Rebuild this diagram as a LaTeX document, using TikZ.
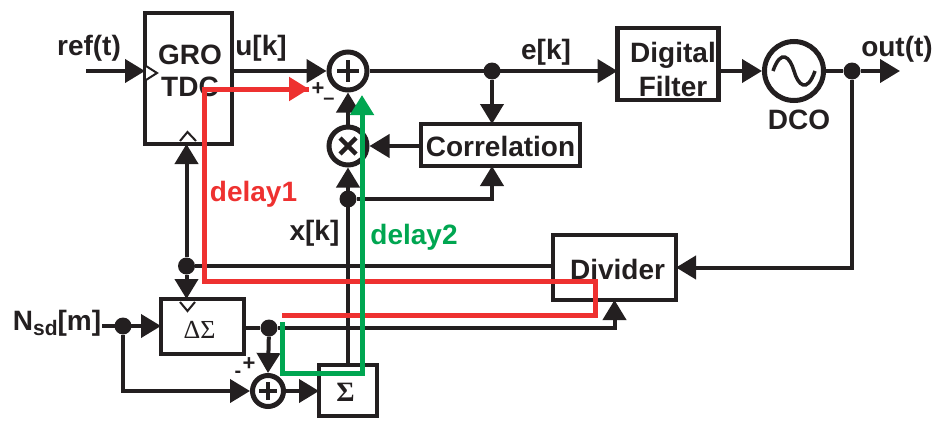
\documentclass[tikz,border=0pt]{standalone}
\usepackage{fontspec}
\setmainfont{Liberation Sans}
\newfontfamily\serifcap{Liberation Serif}
\usetikzlibrary{arrows.meta,calc}
\definecolor{ink}{HTML}{231F20}
\definecolor{redpath}{HTML}{EE3130}
\definecolor{greenpath}{HTML}{00A651}
\tikzset{
  x=1pt,y=-1pt,
  wire/.style={draw=ink,line width=4pt,line cap=butt},
  arrowed/.style={wire,-{Triangle[length=20pt,width=23pt]}},
  blockbox/.style={draw=ink,line width=4.5pt,fill=white,inner sep=0pt,outer sep=0pt},
  blocktext/.style={text=ink,font=\fontsize{28}{33}\selectfont\bfseries,align=center,inner sep=0pt},
  opcircle/.style={circle,draw=ink,line width=5pt,fill=white,inner sep=0pt,outer sep=2.5pt,minimum size=#1},
  junction/.style={circle,fill=ink,inner sep=0pt,minimum size=17pt},
  lbl/.style={text=ink,font=\fontsize{28}{32}\selectfont\bfseries,inner sep=0pt},
  signlbl/.style={text=ink,font=\fontsize{22}{24}\selectfont\bfseries,inner sep=0pt},
  redlbl/.style={text=redpath,font=\fontsize{28}{32}\selectfont\bfseries,inner sep=0pt},
  greenlbl/.style={text=greenpath,font=\fontsize{28}{32}\selectfont\bfseries,inner sep=0pt},
  redline/.style={draw=redpath,line width=5pt,line join=miter},
  greenline/.style={draw=greenpath,line width=5pt,line join=miter},
  notch/.style={draw=ink,line width=2pt,fill=white},
}
\begin{document}
\begin{tikzpicture}
\useasboundingbox (0,0) rectangle (939,423);
% blocks
\node[blockbox,minimum width=87pt,minimum height=131pt] (gro) at (188.5,78.5) {};
\node[blockbox,minimum width=101pt,minimum height=72pt] (filter) at (668,64) {};
\node[blockbox,minimum width=159pt,minimum height=42pt] (corr) at (500.5,145) {};
\node[blockbox,minimum width=123pt,minimum height=65pt] (divider) at (614.5,267.5) {};
\node[blockbox,minimum width=83pt,minimum height=55pt] (ds) at (202.5,326.5) {};
\node[blockbox,minimum width=58pt,minimum height=51pt] (sigma) at (348,390.5) {};
\node[opcircle=38pt] (sum) at (348,71) {};
\node[opcircle=38pt] (mult) at (348,146) {};
\node[opcircle=31pt] (sumb) at (268,391) {};
\node[opcircle=59pt] (dco) at (794,71) {};
% junctions
\node[junction] (edot) at (492,71) {};
\node[junction] (outdot) at (852,71) {};
\node[junction] (xdot) at (348,199) {};
\node[junction] (clkdot) at (186.5,266) {};
\node[junction] (indot) at (123,326) {};
\node[junction] (dsdot) at (269,328) {};
% free ends
\coordinate (refin) at (86,71);
\coordinate (nin) at (102,326);
\coordinate (outend) at (900,71);
\coordinate (redtip) at (309,89);
\coordinate (redcorner) at (204.5,89);
\coordinate (redlow) at (204.5,281);
\coordinate (redright) at (595,281);
\coordinate (redrightb) at (595,315);
\coordinate (redstart) at (282,315);
\coordinate (greenstart) at (282,322);
\coordinate (greenlow) at (282,373);
\coordinate (greenright) at (362,373);
\coordinate (greentip) at (362,95);
% symbols in circles
\draw[ink,line width=4.5pt] ($(sum)+(-11,0)$) -- ($(sum)+(11,0)$) ($(sum)+(0,-11)$) -- ($(sum)+(0,11)$);
\draw[ink,line width=4.5pt] ($(mult)+(-8,-8)$) -- ($(mult)+(8,8)$) ($(mult)+(-8,8)$) -- ($(mult)+(8,-8)$);
\draw[ink,line width=4.5pt] ($(sumb)+(-9,0)$) -- ($(sumb)+(9,0)$) ($(sumb)+(0,-9)$) -- ($(sumb)+(0,9)$);
\draw[ink,line width=3.5pt] ($(dco)+(-21,0)$) .. controls ($(dco)+(-13,-23)$) and ($(dco)+(-4,-14)$) .. (dco.center) .. controls ($(dco)+(4,14)$) and ($(dco)+(13,23)$) .. ($(dco)+(21,0)$);
% connectors
\draw[arrowed] (refin) -- (gro.west |- refin);
\draw[arrowed] (gro.east |- sum) -- (sum.west);
\draw[arrowed] (sum.east) -- (filter.west |- sum);
\draw[arrowed] (filter.east |- dco) -- (dco.west);
\draw[wire] (dco.east) -- (outdot);
\draw[arrowed] (outdot) -- (outend);
\draw[arrowed] (edot) -- (edot |- corr.north);
\draw[arrowed] (corr.west |- mult) -- (mult.east);
\draw[arrowed] (mult.north) -- (sum.south);
\draw[arrowed] (sigma.north) -- (mult.south);
\draw[arrowed] (xdot) -| (edot |- corr.south);
\draw[arrowed] (clkdot) -- (clkdot |- gro.south);
\draw[arrowed] (clkdot) -- (clkdot |- ds.north);
\draw[wire] (clkdot) -- (divider.west |- clkdot);
\draw[arrowed] (outdot) |- (divider.east);
\draw[arrowed] (nin) -- (ds.west |- nin);
\draw[arrowed] (indot) |- (sumb.west);
\draw[wire] (ds.east |- dsdot) -- (dsdot);
\draw[arrowed] (dsdot) -- (sumb.north);
\draw[arrowed] (dsdot) -| (divider.south);
\draw[arrowed] (sumb.east) -- (sigma.west |- sumb);
% clock notches
\draw[notch] (146,66) -- (157,73) -- (146,80);
\draw[notch] (180,141) -- (187.5,132) -- (196,141);
\draw[notch] (180,302) -- (187.5,311) -- (195,302);
% texts
\node[blocktext] (grotxt) at (190,71) {GRO\\[-1pt]TDC};
\node[blocktext] (filtertxt) at (673,69) {Digital\\[1pt]Filter};
\node[blocktext] (corrtxt) at (500.5,146) {Correlation};
\node[blocktext] (divtxt) at (617.5,269) {Divider};
\node[text=ink,inner sep=0pt,font=\fontsize{26}{30}\selectfont\serifcap] (dstxt) at (199.5,330) {ΔΣ};
\node[text=ink,inner sep=0pt,font=\fontsize{28}{30}\selectfont\serifcap\bfseries] (sigmatxt) at (345.5,392) {Σ};
\node[lbl] (reft) at (89,48) {ref(t)};
\node[lbl] (uk) at (261,48) {u[k]};
\node[lbl] (ek) at (546,52) {e[k]};
\node[lbl] (outt) at (897,49) {out(t)};
\node[blocktext] (dcolbl) at (799,120) {DCO};
\node[lbl] (xk) at (314.5,233) {x[k]};
\node[lbl] (nsd) at (57,323) {N\raisebox{-5pt}{\fontsize{21}{22}\selectfont sd}[m]};
\node[signlbl] (plusa) at (318,89) {+};
\node[signlbl] (minusa) at (329,101) {\fontsize{20}{22}\selectfont –};
\node[signlbl] (plusb) at (249,364) {+};
\node[signlbl] (minusb) at (238,374) {\fontsize{20}{22}\selectfont -};
% delay paths
\draw[redline] (redstart) -- (redrightb) -- (redright) -- (redlow) -- (redcorner) -- (redtip);
\draw[redline,-{Triangle[length=20pt,width=23pt]}] (redcorner) -- (redtip);
\draw[greenline,-{Triangle[length=20pt,width=23pt]}] (greenstart) -- (greenlow) -- (greenright) -- (greentip);
\node[redlbl] (d1) at (253.5,194) {delay1};
\node[greenlbl] (d2) at (414,237) {delay2};
\end{tikzpicture}
\end{document}
